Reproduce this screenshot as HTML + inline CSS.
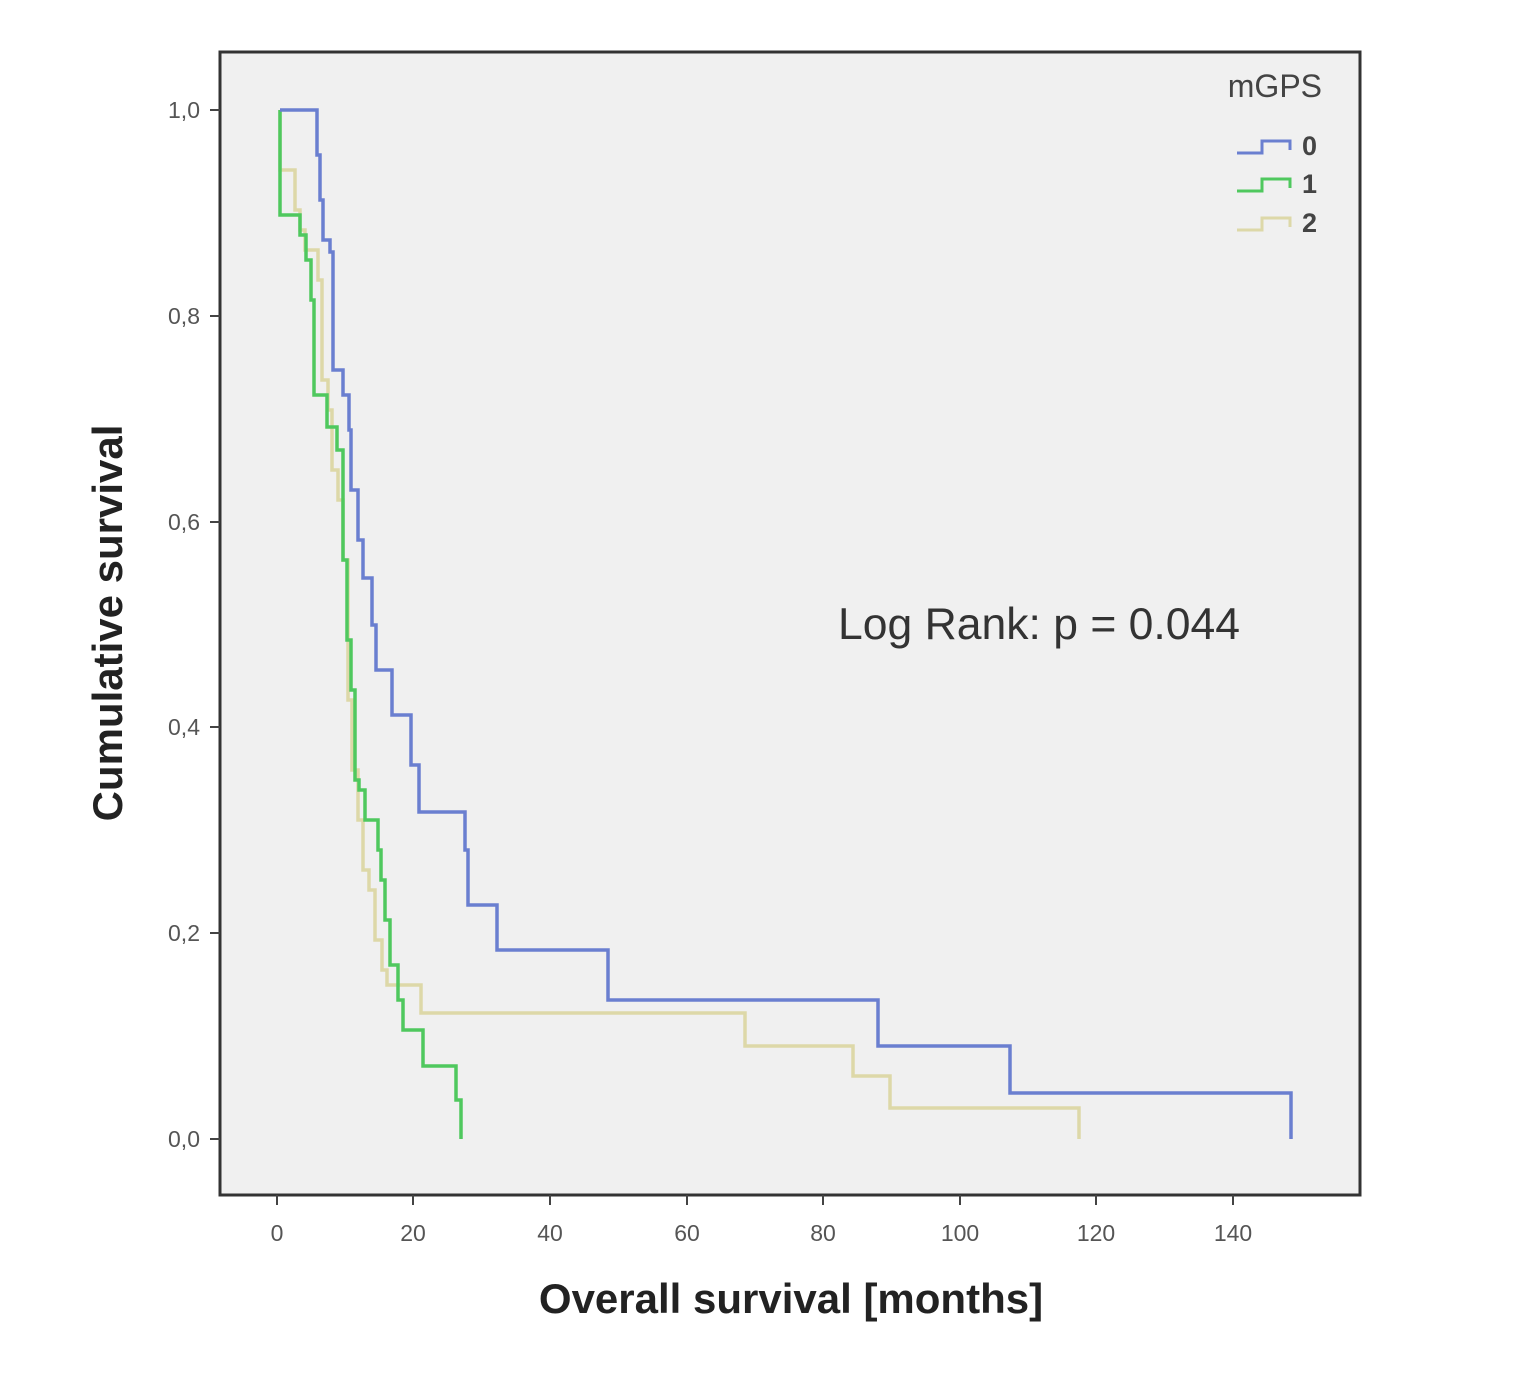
<!DOCTYPE html>
<html><head><style>html,body{margin:0;padding:0;background:#fff}</style></head>
<body>
<svg width="1536" height="1373" xmlns="http://www.w3.org/2000/svg" font-family="Liberation Sans, sans-serif">
<rect x="220" y="52" width="1140" height="1143" fill="#f0f0f0" stroke="#333" stroke-width="3"/>
<g stroke="#444" stroke-width="2">
<line x1="210" y1="110" x2="220" y2="110"/><line x1="210" y1="316" x2="220" y2="316"/><line x1="210" y1="522" x2="220" y2="522"/><line x1="210" y1="727" x2="220" y2="727"/><line x1="210" y1="933" x2="220" y2="933"/><line x1="210" y1="1139" x2="220" y2="1139"/>
<line x1="277" y1="1195" x2="277" y2="1205"/><line x1="413" y1="1195" x2="413" y2="1205"/><line x1="550" y1="1195" x2="550" y2="1205"/><line x1="687" y1="1195" x2="687" y2="1205"/><line x1="823" y1="1195" x2="823" y2="1205"/><line x1="960" y1="1195" x2="960" y2="1205"/><line x1="1096" y1="1195" x2="1096" y2="1205"/><line x1="1233" y1="1195" x2="1233" y2="1205"/>
</g>
<g font-size="23" fill="#555" text-anchor="end">
<text x="200" y="118">1,0</text><text x="200" y="324">0,8</text><text x="200" y="530">0,6</text><text x="200" y="735">0,4</text><text x="200" y="941">0,2</text><text x="200" y="1147">0,0</text>
</g>
<g font-size="23" fill="#555" text-anchor="middle">
<text x="277" y="1241">0</text><text x="413" y="1241">20</text><text x="550" y="1241">40</text><text x="687" y="1241">60</text><text x="823" y="1241">80</text><text x="960" y="1241">100</text><text x="1096" y="1241">120</text><text x="1233" y="1241">140</text>
</g>
<text x="791" y="1313" font-size="42" font-weight="bold" fill="#222" text-anchor="middle">Overall survival [months]</text>
<text transform="translate(122,623) rotate(-90)" font-size="42" font-weight="bold" fill="#222" text-anchor="middle">Cumulative survival</text>
<text x="838" y="639" font-size="44.5" fill="#333">Log Rank: p = 0.044</text>
<text x="1322" y="97" font-size="32" fill="#444" text-anchor="end">mGPS</text>
<g fill="none" stroke-width="3">
<path d="M1237,153 H1262 V141 H1290 V150" stroke="#6a7fd0"/>
<path d="M1237,191 H1262 V179 H1290 V188" stroke="#4fc85e"/>
<path d="M1237,230 H1262 V218 H1290 V227" stroke="#ddd8a8"/>
</g>
<g font-size="27" font-weight="bold" fill="#444"><text x="1302" y="155">0</text><text x="1302" y="193">1</text><text x="1302" y="232">2</text></g>
<g fill="none" stroke-width="3.5">
<path stroke="#ddd8a8" d="M280,110 V170 H295 V210 H300 V230 H305 V250 H318 V280 H322 V380 H328 V410 H332 V470 H338 V500 H343 V560 H348 V700 H352 V770 H358 V820 H363 V870 H369 V890 H375 V940 H382 V970 H387 V985 H421 V1013 H745 V1046 H853 V1076 H890 V1108 H1079 V1139"/>
<path stroke="#4fc85e" d="M280,110 V215 H300 V235 H306 V260 H311 V300 H314 V395 H327 V427 H337 V450 H343 V560 H347 V640 H351 V690 H355 V780 H359 V790 H365 V820 H378 V850 H381 V880 H385 V920 H390 V965 H398 V1000 H403 V1030 H423 V1066 H456 V1100 H461 V1139"/>
<path stroke="#6a7fd0" d="M280,110 H317 V155 H320 V200 H323 V240 H330 V252 H333 V370 H343 V395 H349 V430 H351 V490 H358 V540 H363 V578 H372 V625 H376 V670 H392 V715 H411 V765 H419 V812 H465 V850 H468 V905 H497 V950 H608 V1000 H878 V1046 H1010 V1093 H1291 V1139"/>
</g>
</svg>
</body></html>
